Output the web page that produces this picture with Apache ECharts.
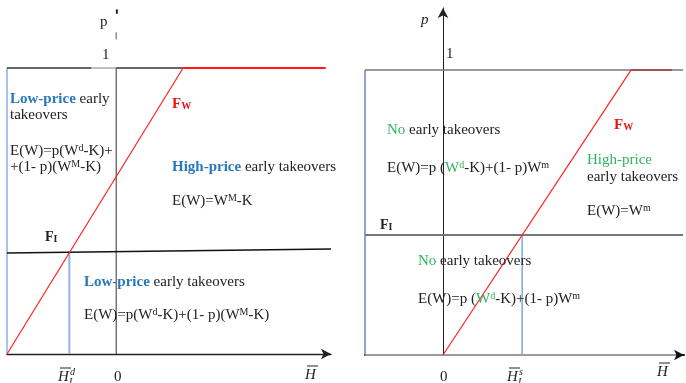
<!DOCTYPE html>
<html><head><meta charset="utf-8">
<script src="https://cdn.jsdelivr.net/npm/echarts@6/dist/echarts.min.js"></script>
<style>html,body{margin:0;padding:0;background:#fff}#c{width:686px;height:383px}</style>
</head><body><div id="c"></div>
<script>
// ---------- Left panel: low-price case (x = H-bar, y = p) ----------
const leftXRange = [-0.62, 1.22];
const leftYRange = [0, 1.21];
const leftFW = [[-0.62, 0], [0.38, 1]];
const leftTopBlackA = [[-0.62, 1], [-0.14, 1]];
const leftTopGray = [[-0.14, 1], [0, 1]];
const leftTopBlackB = [[0, 1], [0.38, 1]];
const leftTopRed = [[0.38, 1], [1.19, 1]];
const leftFI = [[-0.62, 0.353], [1.22, 0.367]];
const leftBlueEdge = [[-0.62, 0], [-0.62, 1]];
const leftBlueHd = [[-0.266, 0], [-0.266, 0.353]];
const leftPAxis = [[0, 0], [0, 1]];
const leftPAxisDash = [[0, 1.125], [0, 1.1]];
const leftPAxisTip = [[0.004, 1.205], [0.004, 1.19]];

// ---------- Right panel: no-early-takeover case ----------
const rightXRange = [-0.415, 1.282];
const rightYRange = [0, 1.218];
const rightFW = [[0, 0], [1, 1]];
const rightTop = [[-0.415, 1], [1.277, 1]];
const rightTopRed = [[1, 1], [1.218, 1]];
const rightFI = [[-0.415, 0.421], [1.277, 0.421]];
const rightBlueEdge = [[-0.415, 0], [-0.415, 1]];
const rightBlueHs = [[0.421, 0], [0.421, 0.421]];
const rightXAxisGray = [[-0.415, 0], [1.24, 0]];

const FONT = "'Liberation Serif','Times New Roman',serif";
const BLUE = '#2878bf', GREEN = '#2fb35c', RED = '#ee1111', INK = '#222';

function seg(data, xi, color, width, z) {
  return { type: 'line', xAxisIndex: xi, yAxisIndex: xi, data: data, showSymbol: false,
    symbol: 'none', clip: false, silent: true, animation: false, z: z || 3,
    lineStyle: { color: color, width: width } };
}
const richBase = {
  s: { fontSize: 10, verticalAlign: 'top', fill: INK, fontFamily: FONT, padding: [0, 0, 6, 0] },
  b: { fill: BLUE, fontWeight: 'bold', fontSize: 15, fontFamily: FONT },
  g: { fill: GREEN, fontSize: 15, fontFamily: FONT },
  gs: { fill: GREEN, fontSize: 10, verticalAlign: 'top', fontFamily: FONT, padding: [0, 0, 6, 0] }
};
function txt(x, y, text, extra) {
  return { type: 'text', x: x, y: y, silent: true, z: 10,
    style: Object.assign({ text: text, fill: INK, fontSize: 15, fontFamily: FONT,
      verticalAlign: 'middle', align: 'left', rich: richBase }, extra || {}) };
}
function fSub(x, y, main, sub, color, size) {
  return txt(x, y, '{m|' + main + '}{u|' + sub + '}', { rich: {
    m: { fill: color, fontWeight: 'bold', fontSize: size, fontFamily: FONT },
    u: { fill: color, fontWeight: 'bold', fontSize: Math.round(size * 0.68), fontFamily: FONT, verticalAlign: 'bottom' }
  } });
}
function hbar(x, y, sup, sub) {
  const els = [
    txt(x, y, 'H', { fontStyle: 'italic' }),
    { type: 'line', silent: true, z: 10, shape: { x1: x + 2, y1: y - 9, x2: x + 13, y2: y - 9 },
      style: { stroke: INK, lineWidth: 1 } }
  ];
  if (sup) els.push(txt(x + 12, y - 5, sup, { fontStyle: 'italic', fontSize: 10 }));
  if (sub) els.push(txt(x + 11, y + 5, sub, { fontStyle: 'italic', fontSize: 10 }));
  return els;
}

const chart = echarts.init(document.getElementById('c'), null, { renderer: 'canvas' });
const hiddenY = { show: true, axisLine: { show: false }, axisTick: { show: false },
  axisLabel: { show: false }, splitLine: { show: false } };

chart.setOption({
  animation: false,
  backgroundColor: '#fff',
  grid: [
    { left: 7, right: 355, top: 8, bottom: 29 },
    { left: 365, right: 2, top: 8, bottom: 28 }
  ],
  xAxis: [
    { type: 'value', gridIndex: 0, min: leftXRange[0], max: leftXRange[1],
      axisLine: { show: true, onZero: false, symbol: ['none', 'arrow'], symbolSize: [8, 10],
        lineStyle: { color: '#222', width: 1.3 } },
      axisTick: { show: false }, axisLabel: { show: false }, splitLine: { show: false } },
    { type: 'value', gridIndex: 1, min: rightXRange[0], max: rightXRange[1],
      axisLine: { show: true, onZero: false, symbol: ['none', 'arrow'], symbolSize: [8, 10],
        lineStyle: { color: '#111', width: 2 } },
      axisTick: { show: false }, axisLabel: { show: false }, splitLine: { show: false } }
  ],
  yAxis: [
    Object.assign({ type: 'value', gridIndex: 0, min: leftYRange[0], max: leftYRange[1] }, hiddenY),
    { type: 'value', gridIndex: 1, min: rightYRange[0], max: rightYRange[1],
      axisLine: { show: true, onZero: true, symbol: ['none', 'arrow'], symbolSize: [8, 10],
        lineStyle: { color: '#222', width: 1 } },
      axisTick: { show: false }, axisLabel: { show: false }, splitLine: { show: false } }
  ],
  series: [
    seg(leftBlueEdge, 0, '#a9c4ea', 2),
    seg(leftBlueHd, 0, '#8fb4e6', 2),
    seg(leftPAxis, 0, '#333', 1),
    seg(leftPAxisDash, 0, '#555', 1),
    seg(leftPAxisTip, 0, '#222', 2),
    seg(leftTopBlackA, 0, '#333', 1.5),
    seg(leftTopGray, 0, '#aaa', 1.5),
    seg(leftTopBlackB, 0, '#333', 1.5),
    seg(leftFI, 0, '#111', 1.4),
    seg(leftTopRed, 0, '#ff1a1a', 2),
    seg(leftFW, 0, '#ff2222', 1.2),

    seg(rightXAxisGray, 1, '#9a9a9a', 2),
    seg(rightBlueEdge, 1, '#4a6aa8', 1.2),
    seg(rightBlueHs, 1, '#7fa8e0', 1.5),
    seg(rightTop, 1, '#777', 1.5),
    seg(rightTopRed, 1, '#a33b3b', 1.5),
    seg(rightFI, 1, '#777', 2),
    seg(rightFW, 1, '#ff2222', 1.2)
  ],
  graphic: [
    // left panel
    txt(100, 22, 'p'),
    txt(102, 55, '1'),
    txt(10, 99, '{b|Low-price} early'),
    txt(10, 115, 'takeovers'),
    fSub(172, 104, 'F', 'W', RED, 15),
    txt(10, 151, 'E(W)=p(W{s|d}-K)+'),
    txt(10, 167, '+(1- p)(W{s|M}-K)'),
    txt(172, 167, '{b|High-price} early takeovers'),
    txt(172, 201, 'E(W)=W{s|M}-K'),
    fSub(45, 237, 'F', 'I', INK, 14),
    txt(84, 282, '{b|Low-price} early takeovers'),
    txt(84, 315, 'E(W)=p(W{s|d}-K)+(1- p)(W{s|M}-K)'),
    ...hbar(58, 377, 'd', 'I'),
    txt(114, 377, '0'),
    ...hbar(305, 375),
    // right panel
    txt(421, 20, 'p', { fontStyle: 'italic' }),
    txt(446, 54, '1'),
    txt(387, 130, '{g|No} early takeovers'),
    fSub(614, 125, 'F', 'W', RED, 15),
    txt(387, 168, 'E(W)=p ({g|W}{gs|d}-K)+(1- p)W{s|m}'),
    txt(587, 160, '{g|High-price}'),
    txt(587, 177, 'early takeovers'),
    txt(587, 211, 'E(W)=W{s|m}'),
    fSub(380, 225, 'F', 'I', INK, 14),
    txt(418, 261, '{g|No} early takeovers'),
    txt(418, 299, 'E(W)=p ({g|W}{gs|d}-K)+(1- p)W{s|m}'),
    txt(440, 377, '0'),
    ...hbar(507, 377, 's', 'I'),
    ...hbar(657, 372)
  ]
});
</script>
</body></html>
